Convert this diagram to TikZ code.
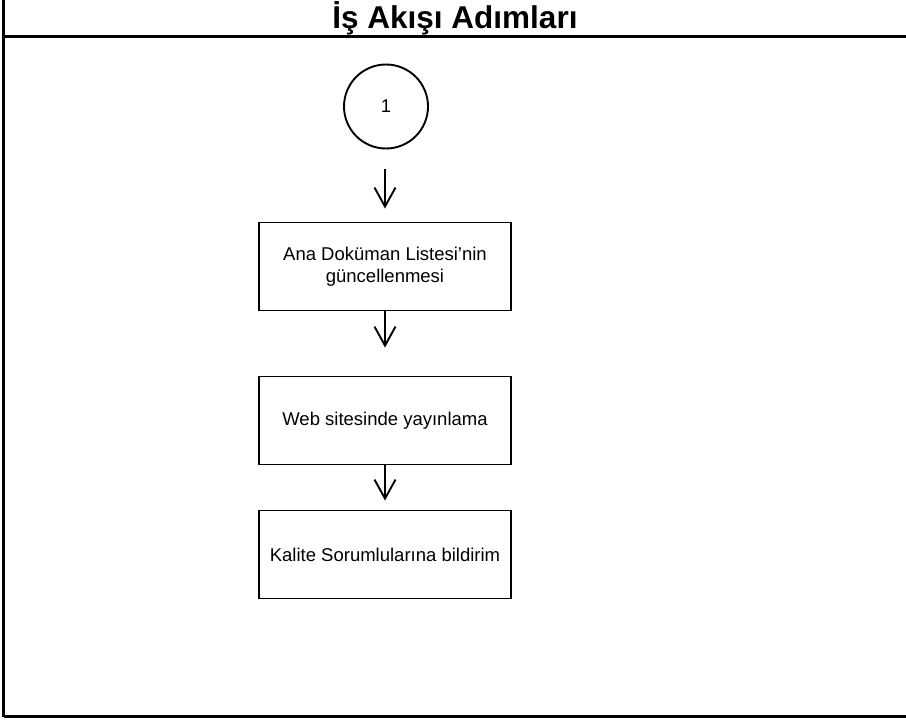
\documentclass[tikz,border=0pt]{standalone}
\usepackage{fontspec}
\setmainfont{Liberation Sans}
\usetikzlibrary{arrows.meta}
\tikzset{
  frameline/.style={line width=3pt},
  stepbox/.style={draw, line width=1.9pt, minimum width=252pt, minimum height=88pt, inner sep=0pt, align=center, font=\fontsize{18.5}{21.5}\selectfont},
  startcircle/.style={draw, circle, line width=1.9pt, minimum size=84pt, inner sep=0pt, font=\fontsize{18.5}{21.5}\selectfont},
  flowarrow/.style={draw, line width=1.9pt, -{Straight Barb[length=19pt,width=21pt]}}
}
\begin{document}
\begin{tikzpicture}[x=1pt,y=-1pt]
\useasboundingbox (0,0) rectangle (906,720);
% frame
\coordinate (tl) at (3.5,0);
\coordinate (bl) at (3.5,716.5);
\coordinate (br) at (906,716.5);
\coordinate (hl) at (3.5,36.5);
\coordinate (hr) at (906,36.5);
\draw[frameline] (tl) -- (bl);
\draw[frameline] (bl) -- (br);
\draw[frameline] (hl) -- (hr);
\node[anchor=base, font=\fontsize{31.5}{36}\selectfont\bfseries, inner sep=0pt] (title) at (455,28.5) {İş Akışı Adımları};
% nodes
\node[startcircle] (c1) at (386,106.5) {1};
\node[stepbox] (b1) at (385,266.5) {Ana Doküman Listesi’nin\\güncellenmesi};
\node[stepbox] (b2) at (385,420.5) {Web sitesinde yayınlama};
\node[stepbox] (b3) at (385,554.5) {Kalite Sorumlularına bildirim};
% arrows
\draw[flowarrow, shorten <=20pt, shorten >=13pt] (c1.south -| b1.north) -- (b1.north);
\draw[flowarrow, shorten >=28pt] (b1.south) -- (b2.north);
\draw[flowarrow, shorten >=9pt] (b2.south) -- (b3.north);
\end{tikzpicture}
\end{document}
